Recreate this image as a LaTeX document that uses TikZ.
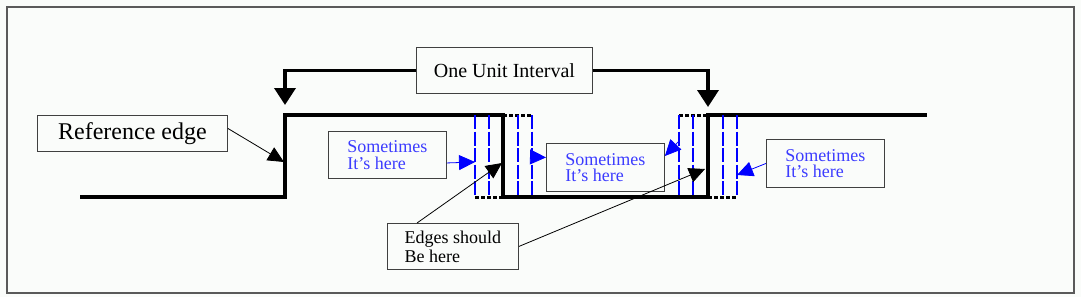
\documentclass[tikz,border=0pt]{standalone}
\usepackage{fontspec}
\setmainfont{Liberation Serif}
\usetikzlibrary{arrows.meta,calc,positioning}
\definecolor{edgeblue}{HTML}{0000FF}
\definecolor{noteblue}{HTML}{3C3CFF}
\definecolor{framegray}{HTML}{5A5A5A}
\definecolor{paper}{HTML}{FAFCFA}

\begin{document}
\begin{tikzpicture}[x=1pt,y=-1pt,>=Latex,
  note/.style={draw=black!75,line width=0.9pt,inner sep=0pt,anchor=north west,align=left},
  bluenote/.style={note,text=noteblue,font=\fontsize{18}{16.5}\selectfont},
  signal/.style={line width=3.6pt},
  jitter/.style={edgeblue,line width=2.8pt,dash pattern=on 14pt off 2.5pt},
  dotline/.style={line width=3pt,dash pattern=on 4pt off 2pt},
  leader/.style={line width=0.8pt,-{Triangle[length=16pt,width=15pt]}},
  blueleader/.style={leader,edgeblue},
  span/.style={line width=3.6pt,-{Triangle[length=17pt,width=21pt]}}]
  \useasboundingbox (0,0) rectangle (1081,297);
  \fill[paper] (0,0) rectangle (1081,297);
  \draw[framegray,line width=1.6pt] (7,7) rectangle (1074,293);

  % the clock waveform
  \draw[signal] (80,197) -- (285,197) -- (285,115) -- (503,115) -- (503,197)
    -- (708,197) -- (708,115) -- (927,115);
  \draw[dotline] (503,115) -- (532,115);
  \draw[dotline] (475,197) -- (503,197);
  \draw[dotline] (679,115) -- (708,115);
  \draw[dotline] (708,197) -- (737,197);
  \foreach \x in {475,489,518,532,679,693,723,737}
    \draw[jitter] (\x,115) -- (\x,197);

  % boxes
  \node[note,minimum width=190pt,minimum height=36pt,font=\fontsize{24}{24}\selectfont]
    (refbox) at (37,115) {Reference edge};
  \node[note,minimum width=176pt,minimum height=46pt,font=\fontsize{20}{20}\selectfont]
    (ui) at (416,47) {One Unit Interval};
  \node[bluenote,minimum width=118pt,minimum height=47pt] (s1) at (328,131) {Sometimes\\It’s here};
  \node[bluenote,minimum width=118pt,minimum height=48pt] (s2) at (546,143) {Sometimes\\It’s here};
  \node[bluenote,minimum width=118pt,minimum height=48pt] (s3) at (766,139) {Sometimes\\It’s here};
  \node[note,minimum width=131pt,minimum height=46pt,font=\fontsize{18}{19}\selectfont]
    (edges) at (387,223) {Edges should\\Be here};

  % arrow ends
  \coordinate (uiL) at (285,105);
  \coordinate (uiR) at (708,107);
  \coordinate (refTip) at (284,162);
  \coordinate (j1) at (475,162);
  \coordinate (j2) at (532,157);
  \coordinate (j3) at (679,141);
  \coordinate (j4) at (737,175);
  \coordinate (e1) at (502,163);
  \coordinate (e2) at (705,169);

  \draw[span] (ui.west) -| (uiL);
  \draw[span] (ui.east) -| (uiR);
  \draw[leader] ([yshift=5pt]refbox.east) -- (refTip);
  \draw[blueleader] ($(s1.east)+(0,8)$) -- (j1);
  \draw[blueleader] (j2) -- ($(s2.west)+(0,-10)$);
  \draw[blueleader] (j3) -- ($(s2.north east)+(0,13)$);
  \draw[blueleader] (s3.west) -- (j4);
  \draw[leader] ($(edges.north west)+(30,0)$) -- (e1);
  \draw[leader] (edges.east) -- (e2);
\end{tikzpicture}
\end{document}
